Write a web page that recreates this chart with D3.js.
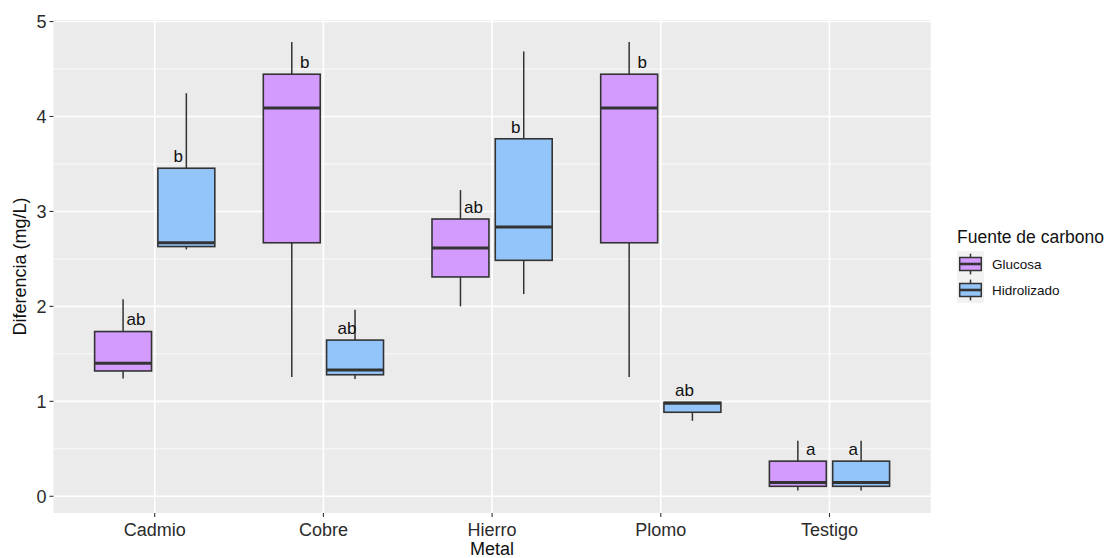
<!DOCTYPE html>
<html>
<head>
<meta charset="utf-8">
<script src="https://cdn.jsdelivr.net/npm/d3@7"></script>
<style>
  body { margin: 0; background: #fff; }
  text { font-family: "Liberation Sans", Arial, sans-serif; }
</style>
</head>
<body>
<div id="chart"></div>
<script>
var metals = ["Cadmio", "Cobre", "Hierro", "Plomo", "Testigo"];
var sources = ["Glucosa", "Hidrolizado"];
var yTicks = [0, 1, 2, 3, 4, 5];

// five number summaries per metal: [min, q1, median, q3, max]
var glucosa = [
  [1.24, 1.32, 1.40, 1.735, 2.075],
  [1.255, 2.67, 4.09, 4.445, 4.785],
  [2.00, 2.31, 2.615, 2.92, 3.225],
  [1.255, 2.67, 4.09, 4.445, 4.785],
  [0.06, 0.105, 0.145, 0.37, 0.585]
];
var hidrolizado = [
  [2.60, 2.63, 2.67, 3.455, 4.245],
  [1.235, 1.28, 1.33, 1.645, 1.965],
  [2.13, 2.485, 2.835, 3.765, 4.685],
  [0.795, 0.885, 0.98, 0.99, 0.99],
  [0.06, 0.105, 0.145, 0.37, 0.585]
];
var glucosaLetters = ["ab", "b", "ab", "b", "a"];
var hidrolizadoLetters = ["b", "ab", "b", "ab", "a"];

var colors = { "Glucosa": "#D49BFE", "Hidrolizado": "#93C5FA" };

var width = 1104, height = 558;
var panel = { left: 53.5, right: 930.7, top: 20, bottom: 513 };

var svg = d3.select("#chart").append("svg")
  .attr("width", width)
  .attr("height", height);

var x = d3.scalePoint()
  .domain(metals)
  .range([panel.left, panel.right])
  .padding(0.6);

var y = d3.scaleLinear()
  .domain([-0.176, 5.016])
  .range([panel.bottom, panel.top]);

var step = x.step();

// panel background + grid
svg.append("rect")
  .attr("x", panel.left).attr("y", panel.top)
  .attr("width", panel.right - panel.left)
  .attr("height", panel.bottom - panel.top)
  .attr("fill", "#EBEBEB");

var minor = d3.range(0.5, 5, 1);
svg.selectAll(".minor").data(minor).enter().append("line")
  .attr("x1", panel.left).attr("x2", panel.right)
  .attr("y1", function(d){ return y(d); })
  .attr("y2", function(d){ return y(d); })
  .attr("stroke", "#fff").attr("stroke-width", 0.8);

svg.selectAll(".major").data(yTicks).enter().append("line")
  .attr("x1", panel.left).attr("x2", panel.right)
  .attr("y1", function(d){ return y(d); })
  .attr("y2", function(d){ return y(d); })
  .attr("stroke", "#fff").attr("stroke-width", 1.6);

svg.selectAll(".vgrid").data(metals).enter().append("line")
  .attr("x1", function(d){ return x(d); })
  .attr("x2", function(d){ return x(d); })
  .attr("y1", panel.top).attr("y2", panel.bottom)
  .attr("stroke", "#fff").attr("stroke-width", 1.6);

// build rows for boxes
var rows = [];
metals.forEach(function(m, i){
  rows.push({ metal: m, source: "Glucosa", s: glucosa[i], label: glucosaLetters[i], side: -1 });
  rows.push({ metal: m, source: "Hidrolizado", s: hidrolizado[i], label: hidrolizadoLetters[i], side: 1 });
});

var boxW = 0.3375 * step;
var dodge = 0.1875 * step;

var box = svg.selectAll(".box").data(rows).enter().append("g")
  .attr("transform", function(d){
    return "translate(" + (x(d.metal) + d.side * dodge) + ",0)";
  });

box.append("line")
  .attr("x1", 0).attr("x2", 0)
  .attr("y1", function(d){ return y(d.s[0]); })
  .attr("y2", function(d){ return y(d.s[1]); })
  .attr("stroke", "#333").attr("stroke-width", 1.5);

box.append("line")
  .attr("x1", 0).attr("x2", 0)
  .attr("y1", function(d){ return y(d.s[3]); })
  .attr("y2", function(d){ return y(d.s[4]); })
  .attr("stroke", "#333").attr("stroke-width", 1.5);

box.append("rect")
  .attr("x", -boxW / 2)
  .attr("width", boxW)
  .attr("y", function(d){ return y(d.s[3]); })
  .attr("height", function(d){ return y(d.s[1]) - y(d.s[3]); })
  .attr("fill", function(d){ return colors[d.source]; })
  .attr("stroke", "#333").attr("stroke-width", 1.6);

box.append("line")
  .attr("x1", -boxW / 2).attr("x2", boxW / 2)
  .attr("y1", function(d){ return y(d.s[2]); })
  .attr("y2", function(d){ return y(d.s[2]); })
  .attr("stroke", "#333").attr("stroke-width", 3);

// significance letters, a bit above q3
box.append("text")
  .attr("x", function(d){ return d.side < 0 ? 13 : -8; })
  .attr("y", function(d){ return y(d.s[3]) - 12; })
  .attr("dy", "0.35em")
  .attr("text-anchor", "middle")
  .attr("font-size", 17)
  .attr("fill", "#111")
  .text(function(d){ return d.label; });

// axes
var yAxis = svg.append("g").attr("transform", "translate(" + panel.left + ",0)");
yAxis.selectAll("line").data(yTicks).enter().append("line")
  .attr("x1", -4).attr("x2", 0)
  .attr("y1", function(d){ return y(d); })
  .attr("y2", function(d){ return y(d); })
  .attr("stroke", "#333").attr("stroke-width", 1.1);
yAxis.selectAll("text").data(yTicks).enter().append("text")
  .attr("x", -7)
  .attr("y", function(d){ return y(d); })
  .attr("dy", "0.35em")
  .attr("text-anchor", "end")
  .attr("font-size", 18)
  .attr("fill", "#2b2b2b")
  .text(function(d){ return d; });

var xAxis = svg.append("g").attr("transform", "translate(0," + panel.bottom + ")");
xAxis.selectAll("line").data(metals).enter().append("line")
  .attr("x1", function(d){ return x(d); })
  .attr("x2", function(d){ return x(d); })
  .attr("y1", 0).attr("y2", 4)
  .attr("stroke", "#333").attr("stroke-width", 1.1);
xAxis.selectAll("text").data(metals).enter().append("text")
  .attr("x", function(d){ return x(d); })
  .attr("y", 17)
  .attr("dy", "0.35em")
  .attr("text-anchor", "middle")
  .attr("font-size", 18)
  .attr("fill", "#2b2b2b")
  .text(function(d){ return d; });

svg.append("text")
  .attr("x", (panel.left + panel.right) / 2)
  .attr("y", 549)
  .attr("dy", "0.35em")
  .attr("text-anchor", "middle")
  .attr("font-size", 18)
  .attr("fill", "#111")
  .text("Metal");

svg.append("text")
  .attr("transform", "translate(20," + ((panel.top + panel.bottom) / 2) + ") rotate(-90)")
  .attr("dy", "0.35em")
  .attr("text-anchor", "middle")
  .attr("font-size", 18)
  .attr("fill", "#111")
  .text("Diferencia (mg/L)");

// legend
var legend = svg.append("g").attr("transform", "translate(957,0)");
legend.append("text")
  .attr("x", 0).attr("y", 237)
  .attr("dy", "0.35em")
  .attr("font-size", 17.5)
  .attr("fill", "#111")
  .text("Fuente de carbono");

var keyW = 27, keyH = 26;
var key = legend.selectAll(".key").data(sources).enter().append("g")
  .attr("transform", function(d, i){ return "translate(0," + (251 + i * keyH) + ")"; });

key.append("rect")
  .attr("width", keyW).attr("height", keyH)
  .attr("fill", "#F2F2F2");
key.append("line")
  .attr("x1", keyW / 2).attr("x2", keyW / 2)
  .attr("y1", keyH * 0.1).attr("y2", keyH * 0.9)
  .attr("stroke", "#333").attr("stroke-width", 1.5);
key.append("rect")
  .attr("x", keyW * 0.1).attr("width", keyW * 0.8)
  .attr("y", keyH * 0.25).attr("height", keyH * 0.5)
  .attr("fill", function(d){ return colors[d]; })
  .attr("stroke", "#333").attr("stroke-width", 1.5);
key.append("line")
  .attr("x1", keyW * 0.1).attr("x2", keyW * 0.9)
  .attr("y1", keyH / 2).attr("y2", keyH / 2)
  .attr("stroke", "#333").attr("stroke-width", 2.6);
key.append("text")
  .attr("x", 35).attr("y", keyH / 2)
  .attr("dy", "0.35em")
  .attr("font-size", 13.5)
  .attr("fill", "#111")
  .text(function(d){ return d; });
</script>
</body>
</html>
